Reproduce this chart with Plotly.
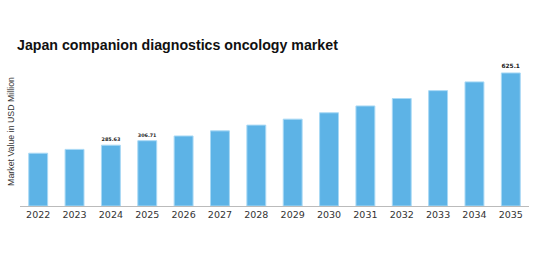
import plotly.graph_objects as go

years = ["2022", "2023", "2024", "2025", "2026", "2027", "2028",
         "2029", "2030", "2031", "2032", "2033", "2034", "2035"]
values = [248.0, 266.0, 285.63, 306.71, 329.0, 353.0, 380.0,
          408.0, 438.0, 470.0, 505.0, 542.0, 583.0, 625.1]
labels = ["", "", "285.63", "306.71", "", "", "",
          "", "", "", "", "", "", "625.1"]

fig = go.Figure(go.Bar(
    x=years, y=values, text=labels, textposition="outside",
    textfont=dict(size=8, color="#222", family="DejaVu Sans", weight="bold"),
    cliponaxis=False,
    marker=dict(color="#5DB3E6", line=dict(color="#a9d9f5", width=1)),
    width=0.52,
))

fig.update_layout(
    width=546, height=253,
    margin=dict(l=20, r=17, t=57, b=47),
    paper_bgcolor="white", plot_bgcolor="white",
    showlegend=False,
    title=dict(text="<b>Japan companion diagnostics oncology market</b>",
               x=17/546, xanchor="left", xref="container",
               y=1-45/253, yanchor="middle", yref="container",
               font=dict(size=14.2, color="#111", family="Liberation Sans, Arial")),
    font=dict(family="Liberation Sans, Arial"),
)
fig.update_xaxes(
    showline=True, linecolor="#bbbbbb", linewidth=1,
    ticks="", tickfont=dict(size=9.5, color="#333", family="DejaVu Sans"),
    showgrid=False, range=[-0.5, 13.5],
)
fig.update_yaxes(
    range=[0, 700], showticklabels=False, showgrid=False, zeroline=False,
    showline=False, ticks="",
    title=dict(text="Market Value in USD Million", standoff=2,
               font=dict(size=8.8, color="#333", family="Liberation Sans, Arial")),
)

fig.write_html("out.html")
